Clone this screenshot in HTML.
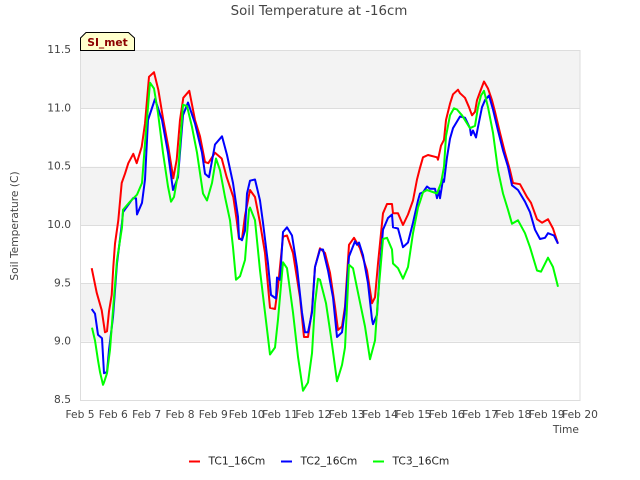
<!DOCTYPE html>
<html>
<head>
<meta charset="utf-8">
<title>Soil Temperature at -16cm</title>
<style>
html,body{margin:0;padding:0;background:#fff;}
svg{display:block;font-family:"DejaVu Sans",sans-serif;}
</style>
</head>
<body>
<svg id="chart" xmlns="http://www.w3.org/2000/svg" width="640" height="480" viewBox="0 0 640 480">
<rect x="0" y="0" width="640" height="480" fill="#fff"/>
<g id="bands"></g>
<g id="grid"></g>
<g id="xlabels"></g>
<g id="ylabels"></g>
<rect x="80.5" y="50.5" width="499.5" height="350" fill="none" stroke="#ddd" stroke-width="1"/>
<g id="series" fill="none" stroke-width="2" stroke-linejoin="round"></g>
<text x="319" y="15" text-anchor="middle" font-size="13.33" fill="#444">Soil Temperature at -16cm</text>
<text transform="translate(18,226) rotate(-90)" text-anchor="middle" font-size="10.67" fill="#444">Soil Temperature (C)</text>
<text x="579" y="433" text-anchor="end" font-size="10.67" fill="#444">Time</text>
<g>
<polygon points="80.5,50.5 80.5,38 86,32.5 128.5,32.5 134.5,38 134.5,50.5" fill="#ffffcc" stroke="#000" stroke-width="1"/>
<text x="107.5" y="46" text-anchor="middle" font-size="10.67" font-weight="bold" fill="#8b0000">SI_met</text>
</g>
<g>
<g>
<line x1="189" x2="200" y1="461.5" y2="461.5" stroke="#ff0000" stroke-width="2"/>
<text x="208.5" y="464.5" font-size="10.67" fill="#222">TC1_16Cm</text>
</g>
<g>
<line x1="281" x2="292" y1="461.5" y2="461.5" stroke="#0000ff" stroke-width="2"/>
<text x="300.5" y="464.5" font-size="10.67" fill="#222">TC2_16Cm</text>
</g>
<g>
<line x1="373" x2="384" y1="461.5" y2="461.5" stroke="#00ff00" stroke-width="2"/>
<text x="392.5" y="464.5" font-size="10.67" fill="#222">TC3_16Cm</text>
</g>
</g>
</svg>
<script>
const xTickDays = [5,6,7,8,9,10,11,12,13,14,15,16,17,18,19,20];
const xTickLabels = ["Feb 5","Feb 6","Feb 7","Feb 8","Feb 9","Feb 10","Feb 11","Feb 12","Feb 13","Feb 14","Feb 15","Feb 16","Feb 17","Feb 18","Feb 19","Feb 20"];
const yTicks = [8.5,9,9.5,10,10.5,11,11.5];
const yTickLabels = ["8.5","9.0","9.5","10.0","10.5","11.0","11.5"];

const tc1Days = [5.35,5.5,5.65,5.75,5.81,5.87,5.95,6,6.05,6.15,6.25,6.35,6.45,6.6,6.7,6.85,6.95,7.07,7.22,7.35,7.5,7.65,7.8,7.9,8,8.1,8.28,8.45,8.6,8.75,8.85,9.05,9.25,9.4,9.6,9.7,9.77,9.86,9.95,10.1,10.25,10.4,10.55,10.7,10.85,10.94,11.09,11.21,11.39,11.6,11.72,11.84,11.96,12.05,12.2,12.35,12.5,12.65,12.74,12.86,12.95,13.07,13.22,13.4,13.61,13.76,13.85,13.94,14.09,14.21,14.36,14.39,14.54,14.69,14.84,14.99,15.11,15.2,15.29,15.44,15.71,15.74,15.83,15.92,15.98,16.1,16.19,16.34,16.4,16.55,16.67,16.76,16.85,16.91,17,17.12,17.24,17.36,17.45,17.6,17.75,17.9,17.99,18.2,18.41,18.53,18.71,18.86,19.04,19.19,19.34];
const tc1Values = [9.63,9.42,9.27,9.08,9.09,9.26,9.4,9.64,9.84,10.04,10.36,10.44,10.53,10.61,10.53,10.67,10.87,11.27,11.31,11.16,10.9,10.67,10.4,10.56,10.9,11.09,11.15,10.9,10.76,10.54,10.53,10.62,10.57,10.41,10.24,10.04,9.88,9.88,10.08,10.3,10.24,10.02,9.76,9.29,9.28,9.47,9.9,9.91,9.76,9.38,9.04,9.04,9.27,9.64,9.8,9.76,9.59,9.3,9.1,9.13,9.3,9.83,9.89,9.8,9.61,9.33,9.38,9.67,10.1,10.18,10.18,10.1,10.1,10,10.09,10.21,10.39,10.49,10.58,10.6,10.58,10.56,10.68,10.73,10.9,11.04,11.12,11.16,11.13,11.09,11.01,10.94,10.97,11.07,11.14,11.23,11.17,11.07,10.97,10.79,10.62,10.47,10.36,10.35,10.24,10.19,10.05,10.02,10.05,9.97,9.84];

const tc2Days = [5.35,5.45,5.54,5.66,5.72,5.81,5.87,5.99,6.11,6.26,6.29,6.59,6.68,6.71,6.86,6.95,7.04,7.25,7.46,7.64,7.79,7.94,8.09,8.24,8.45,8.66,8.75,8.87,9.05,9.26,9.41,9.59,9.74,9.77,9.86,9.95,10.01,10.1,10.25,10.4,10.49,10.64,10.73,10.88,10.91,11,11.09,11.21,11.36,11.51,11.66,11.75,11.84,11.96,12.05,12.2,12.29,12.44,12.59,12.71,12.86,12.95,13.07,13.25,13.31,13.37,13.49,13.64,13.76,13.79,13.91,14,14.09,14.24,14.36,14.39,14.54,14.69,14.84,14.99,15.14,15.2,15.29,15.41,15.5,15.65,15.71,15.77,15.8,15.89,15.92,16.01,16.1,16.19,16.4,16.55,16.7,16.73,16.79,16.88,16.94,17.06,17.15,17.27,17.39,17.54,17.69,17.84,17.96,18.14,18.35,18.5,18.65,18.8,18.95,19.04,19.22,19.34];
const tc2Values = [9.28,9.24,9.06,9.03,8.73,8.74,8.93,9.21,9.67,10.02,10.11,10.23,10.23,10.09,10.19,10.39,10.9,11.08,10.9,10.62,10.3,10.41,10.94,11.05,10.87,10.62,10.44,10.41,10.69,10.76,10.6,10.36,10.07,9.89,9.87,9.95,10.27,10.38,10.39,10.21,10.02,9.67,9.4,9.37,9.55,9.53,9.94,9.98,9.91,9.64,9.25,9.08,9.08,9.25,9.64,9.79,9.79,9.61,9.38,9.04,9.08,9.27,9.73,9.86,9.83,9.85,9.74,9.5,9.19,9.15,9.23,9.64,9.96,10.06,10.09,9.98,9.97,9.81,9.85,10.02,10.21,10.27,10.28,10.33,10.31,10.31,10.23,10.3,10.23,10.39,10.37,10.58,10.74,10.83,10.93,10.92,10.83,10.77,10.81,10.75,10.84,11.01,11.07,11.11,10.99,10.81,10.64,10.5,10.34,10.3,10.2,10.11,9.96,9.88,9.89,9.93,9.91,9.84];

const tc3Days = [5.36,5.45,5.54,5.6,5.69,5.72,5.81,5.9,5.99,6.11,6.26,6.29,6.5,6.71,6.86,6.95,7.1,7.22,7.34,7.49,7.64,7.73,7.82,7.94,8.09,8.21,8.36,8.51,8.69,8.81,8.96,9.08,9.2,9.35,9.5,9.59,9.68,9.8,9.95,10.07,10.1,10.25,10.4,10.55,10.7,10.85,10.94,11.09,11.21,11.39,11.54,11.69,11.84,11.96,12.05,12.14,12.2,12.38,12.53,12.71,12.86,12.95,13.07,13.19,13.34,13.55,13.7,13.85,13.94,14.09,14.21,14.36,14.39,14.54,14.69,14.84,14.99,15.14,15.2,15.29,15.41,15.71,15.83,15.92,15.98,16.1,16.22,16.31,16.46,16.7,16.85,16.94,17.03,17.12,17.24,17.39,17.54,17.69,17.84,17.96,18.14,18.35,18.5,18.71,18.83,19.04,19.19,19.34];
const tc3Values = [9.12,9.01,8.84,8.74,8.63,8.65,8.73,8.93,9.27,9.7,9.98,10.13,10.2,10.26,10.36,10.7,11.22,11.17,10.96,10.62,10.33,10.2,10.24,10.44,11.03,11.02,10.84,10.62,10.27,10.21,10.36,10.57,10.47,10.24,10.04,9.81,9.53,9.56,9.7,10.13,10.15,10.04,9.61,9.25,8.89,8.95,9.19,9.68,9.63,9.25,8.87,8.58,8.65,8.9,9.33,9.54,9.53,9.33,9.04,8.66,8.8,8.95,9.66,9.63,9.42,9.13,8.85,9.01,9.38,9.88,9.89,9.79,9.67,9.63,9.54,9.64,9.93,10.15,10.2,10.28,10.3,10.27,10.36,10.5,10.76,10.94,11,10.99,10.94,10.83,10.85,11.01,11.11,11.15,11.01,10.79,10.47,10.27,10.13,10.01,10.04,9.93,9.81,9.61,9.6,9.72,9.64,9.47];

const seriesNames = ["tc1-16cm-line","tc2-16cm-line","tc3-16cm-line"];
const seriesColors = ["#ff0000","#0000ff","#00ff00"];

const NS = "http://www.w3.org/2000/svg";
function xScale(day){ return 80 + (day - 5) * (500 / 15); }
function yScale(v){ return 400 - (v - 8.5) * (350 / 3); }

const bands = document.getElementById("bands");
const grid = document.getElementById("grid");
const xl = document.getElementById("xlabels");
const yl = document.getElementById("ylabels");

for (let i = 0; i + 1 < yTicks.length; i++) {
  if (i % 2 === 1) {
    const r = document.createElementNS(NS, "rect");
    
    
    r.setAttribute("x", xScale(xTickDays[0]));
    r.setAttribute("y", yScale(yTicks[i + 1]));
    r.setAttribute("width", xScale(xTickDays[xTickDays.length - 1]) - xScale(xTickDays[0]));
    r.setAttribute("height", yScale(yTicks[i]) - yScale(yTicks[i + 1]));
    r.setAttribute("fill", "#f3f3f3");
    bands.appendChild(r);
  }
}
yTicks.forEach(function (v, i) {
  const y = Math.round(yScale(v)) + 0.5;
  const l = document.createElementNS(NS, "line");
  
  
  l.setAttribute("x1", 80);
  l.setAttribute("x2", 580);
  l.setAttribute("y1", y);
  l.setAttribute("y2", y);
  l.setAttribute("stroke", "#ddd");
  grid.appendChild(l);
  const t = document.createElementNS(NS, "text");
  
  
  t.setAttribute("x", 71);
  t.setAttribute("y", yScale(v) + 3);
  t.setAttribute("text-anchor", "end");
  t.setAttribute("font-size", "10.67");
  t.setAttribute("fill", "#444");
  t.textContent = yTickLabels[i];
  yl.appendChild(t);
});
xTickDays.forEach(function (d, i) {
  const t = document.createElementNS(NS, "text");
  
  
  t.setAttribute("x", xScale(d));
  t.setAttribute("y", 418);
  t.setAttribute("text-anchor", "middle");
  t.setAttribute("font-size", "10.67");
  t.setAttribute("fill", "#444");
  t.textContent = xTickLabels[i];
  xl.appendChild(t);
});

const seriesGroup = document.getElementById("series");
[[tc1Days, tc1Values], [tc2Days, tc2Values], [tc3Days, tc3Values]].forEach(function (s, i) {
  const p = document.createElementNS(NS, "polyline");
  
  
  p.setAttribute("stroke", seriesColors[i]);
  p.setAttribute("points", s[0].map(function (d, j) {
    return xScale(d).toFixed(1) + "," + yScale(s[1][j]).toFixed(1);
  }).join(" "));
  seriesGroup.appendChild(p);
});
</script>
</body>
</html>
